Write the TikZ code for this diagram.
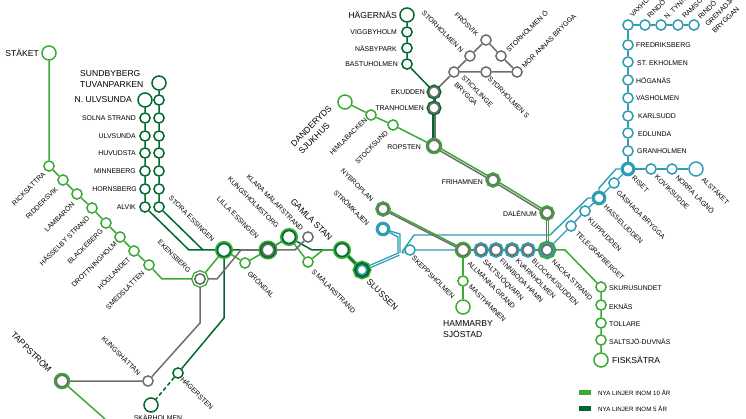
\documentclass[tikz,border=0pt]{standalone}
\usepackage{fontspec}
\setmainfont{Liberation Sans}
\usepackage{tikz}
\usetikzlibrary{backgrounds}
\usepackage{xcolor}
\definecolor{lineljus}{HTML}{3AA935}
\definecolor{linemork}{HTML}{00692D}
\definecolor{lineteal}{HTML}{2F9DB3}
\definecolor{linegra}{HTML}{6E6E6E}
\begin{document}
\begin{tikzpicture}[
    x=1pt, y=-1pt,
    stn/.style={circle, draw=#1, fill=white, line width=1.5pt, inner sep=0pt, minimum size=10.2pt},
    termin/.style={stn=#1, minimum size=14pt},
    hub/.style={stn=#1, minimum size=11.5pt, line width=1.6pt},
    halo/.style={preaction={draw=#1, line width=5pt}},
    bred/.style={stn=#1, minimum size=11.5pt, line width=3.2pt},
    ljus/.style={draw=lineljus, line width=1.5pt},
    mork/.style={draw=linemork, line width=1.5pt},
    teal/.style={draw=lineteal, line width=1.4pt},
    gra/.style={draw=linegra, line width=1.5pt},
    lbl/.style={font=\fontsize{6.9}{8}\selectfont, inner sep=0pt, text=black},
    big/.style={font=\fontsize{8.6}{11}\selectfont, inner sep=0pt, align=left},
    ned/.style={rotate=-45, anchor=west},
    upp/.style={rotate=45, anchor=east},
    legbar/.style={minimum width=12pt, minimum height=5pt, inner sep=0pt, draw=none},
  ]
    \useasboundingbox (0,0) rectangle (746,419);
    % Stäket branch
    \node[termin=lineljus] (staket) at (49,53) {};
    \node[stn=lineljus] (ricksattra) at (49,166) {};
    \node[stn=lineljus] (riddersvik) at (63,180) {};
    \node[stn=lineljus] (lambaron) at (77,194) {};
    \node[stn=lineljus] (hasselby) at (92,208) {};
    \node[stn=lineljus] (blackeberg) at (106,223) {};
    \node[stn=lineljus] (drottningholm) at (120,237) {};
    \node[stn=lineljus] (hoglandet) at (134,251) {};
    \node[stn=lineljus] (smedslatten) at (149,265) {};
    \coordinate (ekbend) at (162,279);
    % Sundbyberg columns
    \node[termin=linemork] (ulvsunda) at (145,100) {};
    \node[stn=linemork] (solna) at (145,118) {};
    \node[stn=linemork] (ulvs) at (145,136) {};
    \node[stn=linemork] (huvudsta) at (145,153) {};
    \node[stn=linemork] (minneberg) at (145,171) {};
    \node[stn=linemork] (hornsberg) at (145,189) {};
    \node[stn=linemork] (alvik) at (145,207) {};
    \node[termin=linemork] (tuvan) at (159,83) {};
    \node[stn=linemork] (r1) at (159,100) {};
    \node[stn=linemork] (r2) at (159,118) {};
    \node[stn=linemork] (r3) at (159,136) {};
    \node[stn=linemork] (r4) at (159,153) {};
    \node[stn=linemork] (r5) at (159,171) {};
    \node[stn=linemork] (r6) at (159,189) {};
    \node[stn=linemork] (r7) at (159,207) {};
    % central line
    \node[hub=linegra, minimum size=10.5pt, preaction={draw=lineljus, line width=7pt}, preaction={draw=white, line width=4.2pt}] (ekensberg) at (200,279) {};
    \node[hub=linemork, minimum size=13pt, halo=lineljus] (essingen) at (224,250) {};
    \node[stn=lineljus] (grondal) at (245,263) {};
    \node[hub=linegra, preaction={draw=lineljus, line width=7.5pt}, preaction={draw=linemork, line width=4.5pt}] (lilla) at (268,250) {};
    \node[hub=linemork, minimum size=13pt, halo=lineljus] (kungsholm) at (289,237) {};
    \node[stn=linegra] (klara) at (308,237) {};
    \node[stn=lineljus] (smalar) at (308,262) {};
    \node[hub=linemork, minimum size=13pt, halo=lineljus] (gamla) at (342,250) {};
    \node[hub=lineteal, minimum size=9.5pt, preaction={draw=lineljus, line width=9pt}, preaction={draw=linemork, line width=6pt}] (slussen) at (362,270) {};
    % southwest
    \node[hub=linegra, halo=lineljus] (tappstrom) at (62,381) {};
    \node[stn=linegra] (kungshattan) at (148,381) {};
    \node[stn=linemork] (hagersten) at (178,373) {};
    \node[termin=linemork] (skarholmen) at (151,405) {};
    \coordinate (grabend) at (200,323);
    \coordinate (morkbend) at (224,318);
    \coordinate (tappout) at (105,419);
    % inner harbour
    \node[hub=linegra, minimum size=10.5pt, halo=lineljus] (nybroplan) at (383,209) {};
    \node[bred=lineteal] (stromkajen) at (383,229) {};
    \node[stn=lineteal] (skeppsholmen) at (410,250) {};
    \node[hub=linegra, halo=lineljus] (allmanna) at (463,250) {};
    \node[hub=linegra, minimum size=10.5pt, halo=lineteal] (saltsjo) at (481,250) {};
    \node[hub=linegra, minimum size=10.5pt, halo=lineteal] (finnboda) at (496,250) {};
    \node[hub=linegra, minimum size=10.5pt, halo=lineteal] (kvarn) at (512,250) {};
    \node[hub=linegra, minimum size=10.5pt, halo=lineteal] (blockhus) at (528,250) {};
    \node[hub=linegra, minimum size=10.5pt, preaction={draw=lineljus, line width=8pt}, preaction={draw=lineteal, line width=4.6pt}] (nacka) at (547,250) {};
    \node[stn=lineljus] (masthamnen) at (463,281) {};
    \node[termin=lineljus] (hammarby) at (463,307) {};
    % Ropsten area
    \node[termin=linemork] (hagernas) at (407,15) {};
    \node[stn=linemork] (viggby) at (407,32) {};
    \node[stn=linemork] (nasby) at (407,48) {};
    \node[stn=linemork] (bastu) at (407,64) {};
    \node[hub=linegra, minimum size=10.5pt, preaction={draw=linemork, line width=4.4pt}] (ekudden) at (434,92) {};
    \node[hub=linegra, minimum size=10.5pt, preaction={draw=linemork, line width=4.4pt}] (tranholmen) at (434,108) {};
    \node[hub=linegra, halo=lineljus] (ropsten) at (434,146) {};
    \node[hub=linegra, minimum size=10.5pt, halo=lineljus] (frihamnen) at (493,180) {};
    \node[hub=linegra, minimum size=10.5pt, halo=lineljus] (dalenum) at (547,213) {};
    \node[termin=lineljus] (danderyd) at (345,102) {};
    \node[stn=lineljus] (himla) at (371,115) {};
    \node[stn=lineljus] (stocksund) at (393,125) {};
    % gray triangle
    \node[stn=linegra] (stickl) at (454,72) {};
    \node[stn=linegra] (storn) at (470,56) {};
    \node[stn=linegra] (frosvik) at (486,40) {};
    \node[stn=linegra] (storo) at (501,56) {};
    \node[stn=linegra] (morannas) at (517,72) {};
    \node[stn=linegra] (stors) at (486,72) {};
    % Värmdö side
    \node[stn=lineteal] (vaxholm) at (628,25) {};
    \node[stn=lineteal] (rindo) at (645,25) {};
    \node[stn=lineteal] (tynn) at (661,25) {};
    \node[stn=lineteal] (ramso) at (678,25) {};
    \node[stn=lineteal] (grenadjar) at (694,25) {};
    \node[stn=lineteal] (fredriks) at (628,45) {};
    \node[stn=lineteal] (ekholmen) at (628,62) {};
    \node[stn=lineteal] (hoganas) at (628,80) {};
    \node[stn=lineteal] (vasholmen) at (628,98) {};
    \node[stn=lineteal] (karlsudd) at (628,116) {};
    \node[stn=lineteal] (edlunda) at (628,133) {};
    \node[stn=lineteal] (granholmen) at (628,151) {};
    \node[bred=lineteal] (riset) at (628,169) {};
    \node[stn=lineteal] (koviks) at (651,169) {};
    \node[stn=lineteal] (lagno) at (672,169) {};
    \node[termin=lineteal] (alstaket) at (696,169) {};
    \node[stn=lineteal] (gashaga) at (614,183) {};
    \node[bred=lineteal] (hasseludden) at (599,198) {};
    \node[stn=lineteal] (klippudden) at (585,211) {};
    \node[stn=lineteal] (telegraf) at (571,226) {};
    % Saltsjöbanan
    \node[stn=lineljus] (skuru) at (601,287) {};
    \node[stn=lineljus] (eknas) at (601,305) {};
    \node[stn=lineljus] (tollare) at (601,323) {};
    \node[stn=lineljus] (duvnas) at (601,340) {};
    \node[termin=lineljus] (fisksatra) at (601,360) {};
    \begin{scope}[on background layer]
      \draw[ljus] (staket) -- (ricksattra) -- (riddersvik) -- (lambaron) -- (hasselby) -- (blackeberg) -- (drottningholm) -- (hoglandet) -- (smedslatten) -- (ekbend) -- (ekensberg) -- (essingen);
      \draw[mork] (ulvsunda) -- (solna) -- (ulvs) -- (huvudsta) -- (minneberg) -- (hornsberg) -- (alvik) -- (189,250) -- (essingen);
      \draw[mork] (tuvan) -- (r1) -- (r2) -- (r3) -- (r4) -- (r5) -- (r6) -- (r7) -- (203,250);
      \draw[mork] (essingen) -- (lilla) -- (kungsholm) -- (312,250) -- (gamla);
      \draw[mork] (essingen) -- (morkbend) -- (hagersten);
      \draw[mork, dash pattern=on 4pt off 2.5pt] (hagersten) -- (skarholmen);
      \draw[ljus] (essingen) -- (grondal) -- (lilla) -- (kungsholm) -- (smalar) -- (323,250) -- (gamla);
      \draw[ljus, line width=3.6pt] (gamla) -- (slussen);
      \draw[mork, line width=1.4pt] (gamla) -- (slussen);
      \draw[gra] (tappstrom) -- (kungshattan) -- (grabend) -- (ekensberg);
      \draw[gra] (ekensberg) -- (217,279) -- (241,250) -- (lilla) -- (295,250) -- (klara);
      \draw[ljus] (tappstrom) -- (tappout);
      % teal harbour lines
      \draw[lineteal, line width=3.6pt] (slussen) -- (399,254);
      \draw[white, line width=0.9pt] (slussen) -- (399,254);
      \draw[teal] (stromkajen) -- (400,234) -- (400,253);
      \draw[teal] (stromkajen) -- (398,237) -- (398,254);
      \draw[teal] (402,253) -- (skeppsholmen) -- (allmanna);
      \draw[teal] (402,252) -- (414,235) -- (550,235) -- (588,198) -- (hasseludden);
      \draw[teal] (hasseludden) -- (599,188) -- (616,169) -- (riset);
      \draw[teal] (nacka) -- (telegraf) -- (klippudden) -- (hasseludden) -- (gashaga) -- (riset);
      \draw[teal] (riset) -- (koviks) -- (lagno) -- (alstaket);
      \draw[teal] (riset) -- (granholmen) -- (edlunda) -- (karlsudd) -- (vasholmen) -- (hoganas) -- (ekholmen) -- (fredriks) -- (vaxholm) -- (rindo) -- (tynn) -- (ramso) -- (grenadjar);
      % nybroplan line
      \draw[ljus] ([yshift=1.2pt]nybroplan.center) -- ([yshift=1.2pt]allmanna.center);
      \draw[gra] ([yshift=-0.6pt]nybroplan.center) -- ([yshift=-0.6pt]allmanna.center);
      \draw[gra] (allmanna) -- (saltsjo) -- (finnboda) -- (kvarn) -- (blockhus) -- (nacka);
      \draw[ljus] (allmanna) -- (masthamnen) -- (hammarby);
      % ropsten
      \draw[mork] (hagernas) -- (viggby) -- (nasby) -- (bastu) -- (ekudden);
      \draw[mork, line width=3pt] (ekudden) -- (tranholmen);
      \draw[gra] (ekudden) -- (tranholmen);
      \draw[mork] ([xshift=-1pt]tranholmen.center) -- ([xshift=-1pt]ropsten.center);
      \draw[gra] ([xshift=1pt]tranholmen.center) -- ([xshift=1pt]ropsten.center);
      \draw[gra] (ekudden) -- (stickl);
      \draw[gra] (stickl) -- (storn) -- (frosvik) -- (storo) -- (morannas) -- (stors) -- (stickl);
      \draw[ljus] (danderyd) -- (himla) -- (stocksund) -- (ropsten);
      \draw[ljus] ([shift={(0.7,-0.9)}]ropsten.center) -- ([shift={(0.7,-0.9)}]frihamnen.center);
      \draw[gra] ([shift={(-0.7,0.9)}]ropsten.center) -- ([shift={(-0.7,0.9)}]frihamnen.center);
      \draw[ljus] ([shift={(0.7,-0.9)}]frihamnen.center) -- ([shift={(0.7,-0.9)}]dalenum.center);
      \draw[gra] ([shift={(-0.7,0.9)}]frihamnen.center) -- ([shift={(-0.7,0.9)}]dalenum.center);
      \draw[gra] ([xshift=-0.6pt]dalenum.center) -- ([xshift=-0.6pt]nacka.center);
      \draw[ljus] ([xshift=1.6pt]dalenum.center) -- ([xshift=1.6pt]nacka.center);
      \draw[ljus] (nacka) -- (565,250) -- (skuru) -- (eknas) -- (tollare) -- (duvnas) -- (fisksatra);
    \end{scope}
    % labels
    \node[big, anchor=east] (tstaket) at (39,53) {STÄKET};
    \node[big, anchor=west] (ttuvan) at (80,79) {SUNDBYBERG\\TUVANPARKEN};
    \node[big, anchor=east] (tulvsunda) at (132,100) {N. ULVSUNDA};
    \node[lbl, anchor=east] (tsolna) at (136,118) {SOLNA STRAND};
    \node[lbl, anchor=east] (tulvs) at (136,136) {ULVSUNDA};
    \node[lbl, anchor=east] (thuvudsta) at (136,153) {HUVUDSTA};
    \node[lbl, anchor=east] (tminneberg) at (136,171) {MINNEBERG};
    \node[lbl, anchor=east] (thornsberg) at (137,189) {HORNSBERG};
    \node[lbl, anchor=east] (talvik) at (136,207) {ALVIK};
    \node[lbl, upp] (tricksattra) at (44,173) {RICKSÄTTRA};
    \node[lbl, upp] (triddersvik) at (57,188) {RIDDERSVIK};
    \node[lbl, upp] (tlambaron) at (73,203) {LAMBARÖN};
    \node[lbl, upp] (thasselby) at (88,217) {HÄSSELBY STRAND};
    \node[lbl, upp] (tblackeberg) at (102,230) {BLACKEBERG};
    \node[lbl, upp] (tdrottning) at (116,243) {DROTTNINGHOLM};
    \node[lbl, upp] (thoglandet) at (129,258) {HÖGLANDET};
    \node[lbl, upp] (tsmedslatten) at (143,272) {SMEDSLÄTTEN};
    \node[lbl, ned] (tekensberg) at (159,241) {EKENSBERG};
    \node[lbl, ned] (tessingen) at (170,197) {STORA ESSINGEN};
    \node[lbl, ned] (tlilla) at (218,198) {LILLA ESSINGEN};
    \node[lbl, ned] (tkungsholm) at (229,178) {KUNGSHOLMSTORG};
    \node[lbl, ned] (tklara) at (248,175) {KLARA MÄLARSTRAND};
    \node[big, ned] (tgamla) at (292,200) {GAMLA STAN};
    \node[lbl, ned] (tsmalar) at (313,270) {S MÄLARSTRAND};
    \node[big, ned] (tslussen) at (368,280) {SLUSSEN};
    \node[lbl, ned] (tgrondal) at (249,272) {GRÖNDAL};
    \node[big, ned] (ttappstrom) at (13,333) {TAPPSTRÖM};
    \node[lbl, ned] (tkungshattan) at (103,337) {KUNGSHÄTTAN};
    \node[lbl, ned] (thagersten) at (182,378) {HÄGERSTEN};
    \node[lbl] (tskarholmen) at (158,418) {SKÄRHOLMEN};
    \node[lbl, ned] (tstromkajen) at (335,191) {STRÖMKAJEN};
    \node[lbl, ned] (tnybroplan) at (342,170) {NYBROPLAN};
    \node[lbl, ned] (tskepps) at (413,257) {SKEPPSHOLMEN};
    \node[lbl, ned] (tallmanna) at (469,262) {ALLMÄNNA GRÄND};
    \node[lbl, ned] (tsaltsjo) at (484,261) {SALTSJÖQVARN};
    \node[lbl, ned] (tfinnboda) at (501,260) {FINNBODA HAMN};
    \node[lbl, ned] (tkvarn) at (517,260) {KVARNHOLMEN};
    \node[lbl, ned] (tblockhus) at (533,260) {BLOCKHUSUDDEN};
    \node[lbl, ned] (tnacka) at (553,261) {NACKA STRAND};
    \node[lbl, ned] (tmasthamnen) at (470,286) {MASTHAMNEN};
    \node[big, anchor=west] (thammarby) at (443,329) {HAMMARBY\\SJÖSTAD};
    \node[lbl, ned] (ttelegraf) at (577,233) {TELEGRAFBERGET};
    \node[lbl, ned] (tklippudden) at (589,219) {KLIPPUDDEN};
    \node[lbl, ned] (thasseludden) at (605,206) {HASSELUDDEN};
    \node[lbl, ned] (tgashaga) at (618,191) {GÅSHAGA BRYGGA};
    \node[lbl, ned] (triset) at (633,177) {RISET};
    \node[lbl, ned] (tkoviks) at (656,176) {KOVIKSUDDE};
    \node[lbl, ned] (tlagno) at (677,176) {NORRA LAGNÖ};
    \node[lbl, ned] (talstaket) at (703,178) {ALSTÄKET};
    \node[lbl, anchor=west] (tfredriks) at (636,45) {FREDRIKSBERG};
    \node[lbl, anchor=west] (tekholmen) at (637,63) {ST. EKHOLMEN};
    \node[lbl, anchor=west] (thoganas) at (636,81) {HÖGANÄS};
    \node[lbl, anchor=west] (tvasholmen) at (636,98) {VASHOLMEN};
    \node[lbl, anchor=west] (tkarlsudd) at (638,116) {KARLSUDD};
    \node[lbl, anchor=west] (tedlunda) at (638,134) {EDLUNDA};
    \node[lbl, anchor=west] (tgranholmen) at (637,151) {GRANHOLMEN};
    \node[lbl, rotate=45, anchor=west] (tvaxholm) at (631,16) {VAXHOLM};
    \node[lbl, rotate=45, anchor=west] (trindo) at (648,17) {RINDÖ};
    \node[lbl, rotate=45, anchor=west] (ttynn) at (665,18) {N. TYNNINGÖ};
    \node[lbl, rotate=45, anchor=west] (tramso) at (683,17) {RAMSÖ};
    \node[lbl, rotate=45, anchor=west, align=left, font=\fontsize{6.9}{10}\selectfont] (tgrenadjar) at (706,25) {RINDÖ\\GRENADJÄR\\BRYGGAN};
    \node[lbl, ned] (tstorn) at (423,12) {STORHOLMEN N};
    \node[lbl, ned] (tfrosvik) at (456,13) {FRÖSVIK};
    \node[lbl, rotate=45, anchor=west] (tstoro) at (507,51) {STORHOLMEN Ö};
    \node[lbl, rotate=45, anchor=west] (tmorannas) at (523,67) {MOR ANNAS BRYGGA};
    \node[lbl, ned, align=left, font=\fontsize{6.9}{10}\selectfont] (tstickl) at (459,80) {STICKLINGE\\BRYGGA};
    \node[lbl, ned] (tstors) at (489,78) {STORHOLMEN S};
    \node[lbl, anchor=east] (tekudden) at (425,92) {EKUDDEN};
    \node[lbl, anchor=east] (ttranholmen) at (424,108) {TRANHOLMEN};
    \node[lbl, anchor=east] (tropsten) at (421,147) {ROPSTEN};
    \node[lbl, anchor=east] (tfrihamnen) at (483,182) {FRIHAMNEN};
    \node[lbl, anchor=east] (tdalenum) at (537,214) {DALÉNUM};
    \node[lbl, anchor=east] (tbastu) at (398,64) {BASTUHOLMEN};
    \node[lbl, anchor=east] (tnasby) at (397,49) {NÄSBYPARK};
    \node[lbl, anchor=east] (tviggby) at (397,32) {VIGGBYHOLM};
    \node[big, anchor=east] (thagernas) at (397,15) {HÄGERNÄS};
    \node[big, rotate=45, anchor=west] (tdanderyd) at (296,149) {DANDERYDS\\SJUKHUS};
    \node[lbl, upp] (thimla) at (366,119) {HIMLABACKEN};
    \node[lbl, upp] (tstocksund) at (387,132) {STOCKSUND};
    \node[lbl, anchor=west] (tskuru) at (609,288) {SKURUSUNDET};
    \node[lbl, anchor=west] (teknas) at (609,307) {EKNÄS};
    \node[lbl, anchor=west] (ttollare) at (609,324) {TOLLARE};
    \node[lbl, anchor=west] (tduvnas) at (609,342) {SALTSJÖ-DUVNÄS};
    \node[big, anchor=west] (tfisksatra) at (612,360) {FISKSÄTRA};
    % legend
    \node[legbar, fill=lineljus] (leg10) at (585,392.5) {};
    \node[legbar, fill=linemork] (leg5) at (585,408.5) {};
    \node[lbl, anchor=west, font=\fontsize{6.2}{8}\selectfont] (tleg10) at (598,392.5) {NYA LINJER INOM 10 ÅR};
    \node[lbl, anchor=west, font=\fontsize{6.2}{8}\selectfont] (tleg5) at (598,408.5) {NYA LINJER INOM 5 ÅR};
\end{tikzpicture}
\end{document}
